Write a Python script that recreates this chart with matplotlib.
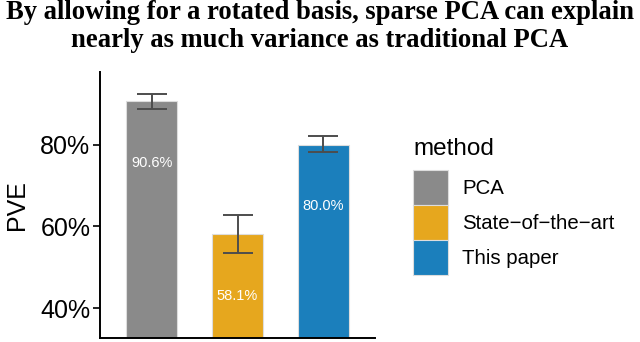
import numpy as np
import matplotlib
matplotlib.use("Agg")
import matplotlib.pyplot as plt
from matplotlib.patches import Patch

plt.rcParams["font.family"] = ["Liberation Sans", "DejaVu Sans"]

# ── data ──────────────────────────────────────────────────────────────────────
methods = ["PCA", "State\u2212of\u2212the\u2212art", "This paper"]
pve = [90.6, 58.1, 80.0]
err_lo = [88.7, 53.5, 78.1]
err_hi = [92.3, 62.8, 82.1]
colors = ["#8a8a8a", "#e6a71e", "#1b7fbc"]
yticks = [40, 60, 80]

fig = plt.figure(figsize=(6.4, 3.42), dpi=100)
ax = fig.add_axes([100/640, 4/342, 275/640, 266.3/342])

x = np.arange(1, len(methods) + 1)
ax.bar(x, pve, width=0.6, color=colors, edgecolor="#dddddd", linewidth=0.8, zorder=2)

yerr = [np.array(pve) - np.array(err_lo), np.array(err_hi) - np.array(pve)]
ax.errorbar(x, pve, yerr=yerr, fmt="none", ecolor="#4d4d4d", elinewidth=1.4,
            capsize=11, capthick=1.4, zorder=3)

for xi, v in zip(x, pve):
    ax.text(xi, v - 15, f"{v:.1f}%", color="white", fontsize=10.5,
            ha="center", va="center", zorder=4)

ax.set_xlim(0.4, 3.6)
ax.set_ylim(32.75, 97.8)
ax.set_yticks(yticks)
ax.set_yticklabels([f"{t}%" for t in yticks], fontsize=18, color="black")
ax.set_xticks([])
ax.set_ylabel("PVE", fontsize=18, labelpad=8)
ax.tick_params(axis="y", length=5, width=1.2, pad=2)
for s in ["top", "right"]:
    ax.spines[s].set_visible(False)
for s in ["left", "bottom"]:
    ax.spines[s].set_linewidth(1.4)

# legend: title drawn separately so there is a gap above the keys
handles = [Patch(facecolor=c, edgecolor="#dddddd", linewidth=0.8) for c in colors]
leg = fig.legend(handles, methods, loc="upper left",
                 bbox_to_anchor=(413/640, 1 - 170/342), frameon=False,
                 fontsize=14.7, handlelength=1.7, handleheight=2.27,
                 labelspacing=0.0, handletextpad=0.7,
                 borderaxespad=0, borderpad=0)
fig.text(413/640, 1 - 155/342, "method", fontsize=17.5, ha="left", va="baseline")

fig.text(0.5, 1 - 19/342, "By allowing for a rotated basis, sparse PCA can explain",
         family="Liberation Serif", fontweight="bold", fontsize=19.2,
         ha="center", va="baseline")
fig.text(0.5, 1 - 47/342, "nearly as much variance as traditional PCA",
         family="Liberation Serif", fontweight="bold", fontsize=19.2,
         ha="center", va="baseline")

fig.savefig("out.png", dpi=100)
